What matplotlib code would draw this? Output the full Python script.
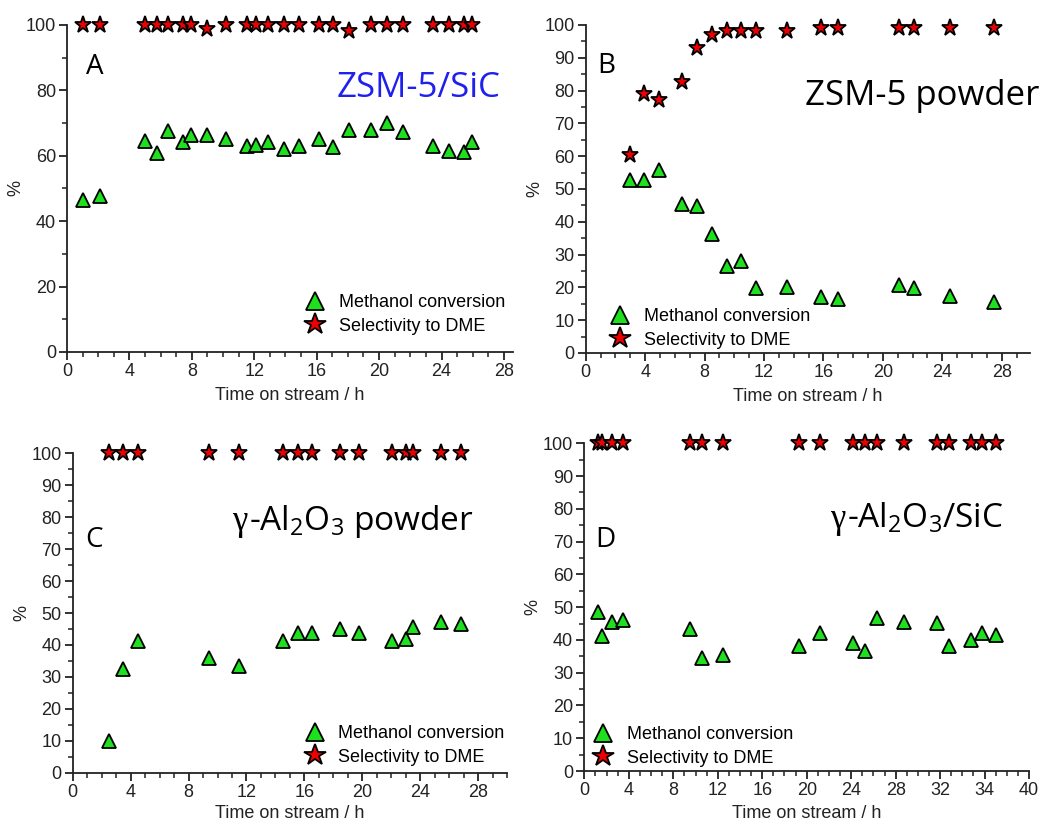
import matplotlib
matplotlib.use("Agg")
import matplotlib.pyplot as plt
from matplotlib.ticker import MultipleLocator, FixedLocator, FixedFormatter

plt.rcParams['font.family'] = ['Liberation Sans', 'DejaVu Sans']
plt.rcParams['mathtext.fontset'] = 'custom'
plt.rcParams['mathtext.rm'] = 'Open Sans'
plt.rcParams['mathtext.it'] = 'Open Sans:italic'

# panel A - ZSM-5/SiC
time_a = [1.0, 2.1, 5.0, 5.75, 6.45, 7.45, 7.95, 8.97, 10.2, 11.55, 12.14, 12.88,
          13.9, 14.85, 16.13, 17.07, 18.06, 19.5, 20.5, 21.54, 23.46, 24.47, 25.43, 25.96]
conv_a = [46.4, 47.7, 64.5, 60.9, 67.6, 64.1, 66.5, 66.3, 65.0, 63.0, 63.2, 64.3,
          62.0, 63.0, 65.0, 62.7, 67.9, 67.9, 69.9, 67.4, 63.0, 61.5, 61.2, 64.3]
sel_a = [100, 100, 100, 100, 100, 100, 100, 98.8, 100, 100, 100, 100,
         100, 100, 100, 100, 98.2, 100, 100, 100, 100, 100, 100, 100]

# panel B - ZSM-5 powder
time_b = [3.0, 3.95, 4.96, 6.51, 7.52, 8.48, 9.49, 10.45, 11.47, 13.53, 15.82, 17.0,
          21.05, 22.06, 24.52, 27.48]
conv_b = [52.6, 52.6, 55.8, 45.5, 44.9, 36.3, 26.6, 27.9, 19.8, 20.0, 17.1, 16.4,
          20.6, 19.7, 17.5, 15.4]
sel_b = [60.4, 79.0, 77.0, 82.5, 93.1, 96.8, 98.3, 98.3, 98.3, 98.3, 99.2, 99.2,
         99.2, 99.2, 99.2, 99.2]

# panel C - gamma-Al2O3 powder
time_c = [2.5, 3.5, 4.5, 9.43, 11.46, 14.5, 15.53, 16.52, 18.45, 19.74, 22.02, 23.0,
          23.52, 25.47, 26.85]
conv_c = [9.9, 32.4, 41.2, 36.0, 33.4, 41.2, 43.6, 43.6, 44.9, 43.6, 41.2, 41.8,
          45.5, 47.3, 46.6]
sel_c = [100] * len(time_c)

# panel D - gamma-Al2O3/SiC
time_d = [1.2, 1.59, 2.49, 3.51, 9.54, 10.55, 12.5, 19.31, 21.2, 24.2, 25.28, 26.33,
          28.79, 31.69, 32.8, 34.78, 35.8, 37.03]
conv_d = [48.4, 41.2, 45.6, 46.1, 43.2, 34.4, 35.4, 38.2, 42.2, 39.0, 36.6, 46.6,
          45.6, 45.1, 38.1, 40.0, 42.0, 41.4]
sel_d = [100] * len(time_d)
xticks_d = [0, 4, 8, 12, 16, 20, 24, 28, 32, 36, 40]
xlabels_d = ['0', '4', '8', '12', '16', '20', '24', '28', '32', '34', '40']

GREEN = '#1ee01e'
RED = '#ee0000'
TICK_FS = 13
LABEL_FS = 13


def setupAxis(ax, xmax, ymajor, ymin_step, xpad=5):
    ax.set_xlim(0, xmax)
    ax.set_ylim(0, 100)
    for s in ['top', 'right']:
        ax.spines[s].set_visible(False)
    for s in ['left', 'bottom']:
        ax.spines[s].set_linewidth(1.3)
        ax.spines[s].set_color('#222222')
    ax.xaxis.set_major_locator(MultipleLocator(4))
    ax.xaxis.set_minor_locator(MultipleLocator(1))
    ax.yaxis.set_major_locator(MultipleLocator(ymajor))
    ax.yaxis.set_minor_locator(MultipleLocator(ymin_step))
    ax.tick_params(which='major', direction='out', length=6, width=1.3,
                   labelsize=TICK_FS, colors='#222222', pad=2)
    ax.tick_params(which='minor', direction='out', length=3.5, width=1.1, colors='#222222')
    ax.set_xlabel('Time on stream / h', fontsize=LABEL_FS, color='#222222', labelpad=xpad)
    ax.set_ylabel('%', fontsize=LABEL_FS, color='#222222', labelpad=1)


def plotPanel(ax, t, conv, sel, leg_x, leg_y):
    ax.plot(t, conv, linestyle='none', marker='^', markersize=9.5, markerfacecolor=GREEN,
            markeredgecolor='black', markeredgewidth=1.3, clip_on=False,
            label='Methanol conversion', zorder=3)
    ax.plot(t, sel, linestyle='none', marker='*', markersize=12.5, markerfacecolor=RED,
            markeredgecolor='black', markeredgewidth=1.3, clip_on=False,
            label='Selectivity to DME', zorder=4)
    ax.legend(loc='center left', bbox_to_anchor=(leg_x, leg_y), frameon=False,
              fontsize=LABEL_FS, markerscale=1.3, handlelength=1.0, handletextpad=0.8,
              borderpad=0, borderaxespad=0, labelspacing=0.35)


def gammaTitle(ax, x, y, rest):
    # gamma in a serif face like the original Symbol glyph, rest in the sans face
    ax.text(x, y, 'γ', fontsize=25, family='Liberation Serif', va='baseline')
    ax.annotate(rest, xy=(x, y), xytext=(12, 0), textcoords='offset points',
                fontsize=24, family='Open Sans', va='baseline')


fig = plt.figure(figsize=(10.42, 8.22), dpi=100)

axA = fig.add_axes([0.0643, 0.5718, 0.4283, 0.3978])
setupAxis(axA, 28.6, 20, 10)
plotPanel(axA, time_a, conv_a, sel_a, 0.536, 0.115)
axA.text(1.2, 85, 'A', fontsize=20, family='Open Sans', va='baseline')
axA.text(27.8, 78, 'ZSM-5/SiC', fontsize=25, family='Open Sans', color='#2020ee',
         ha='right', va='baseline')

axB = fig.add_axes([0.5621, 0.5706, 0.4264, 0.3990])
setupAxis(axB, 29.9, 10, 5)
plotPanel(axB, time_b, conv_b, sel_b, 0.057, 0.075)
axB.text(0.76, 85.4, 'B', fontsize=20, family='Open Sans', va='baseline')
axB.text(14.75, 75.6, 'ZSM-5 powder', fontsize=25, family='Open Sans', va='baseline')

axC = fig.add_axes([0.0698, 0.0600, 0.4168, 0.3885])
setupAxis(axC, 30, 10, 5, xpad=3)
plotPanel(axC, time_c, conv_c, sel_c, 0.537, 0.085)
axC.text(0.85, 70.7, 'C', fontsize=20, family='Open Sans', va='baseline')
gammaTitle(axC, 11.0, 76.0, '-Al$_2$O$_3$ powder')

axD = fig.add_axes([0.5608, 0.0620, 0.4268, 0.3987])
setupAxis(axD, 40, 10, 5, xpad=4)
axD.xaxis.set_major_locator(FixedLocator(xticks_d))
axD.xaxis.set_major_formatter(FixedFormatter(xlabels_d))
plotPanel(axD, time_d, conv_d, sel_d, 0.022, 0.075)
axD.text(0.96, 68.4, 'D', fontsize=20, family='Open Sans', va='baseline')
gammaTitle(axD, 22.1, 74.2, '-Al$_2$O$_3$/SiC')

fig.savefig('out.png', dpi=100)
